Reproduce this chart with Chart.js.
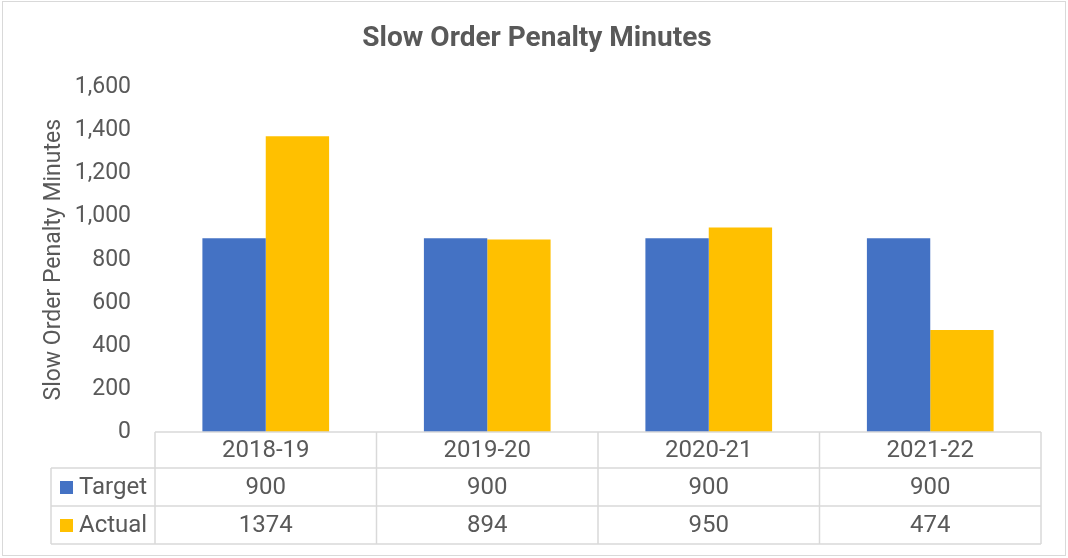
<!DOCTYPE html>
<html>
<head>
<meta charset="utf-8">
<script src="https://cdn.jsdelivr.net/npm/chart.js@4/dist/chart.umd.min.js"></script>
<style>
  html, body { margin: 0; padding: 0; background: #fff; }
  #wrap { width: 1068px; height: 558px; position: relative; }
</style>
</head>
<body>
<div id="wrap"><canvas id="penaltyChart"></canvas></div>
<script>
const categories = ['2018-19', '2019-20', '2020-21', '2021-22'];
const targetValues = [900, 900, 900, 900];
const actualValues = [1374, 894, 950, 474];
const seriesNames = ['Target', 'Actual'];
const seriesColors = ['#4472C4', '#FFC000'];
const chartTitle = 'Slow Order Penalty Minutes';

const textColor = '#595959';
const lineColor = '#d9d9d9';
const fontFamily = 'Roboto, "Noto Sans", sans-serif';

// draws title, the data table under the plot and the outer frame
const dataTable = {
    id: 'dataTable',
    afterDraw(chart) {
        const ctx = chart.ctx;
        const area = chart.chartArea;
        const n = categories.length;
        const colW = (area.right - area.left) / n;
        const rows = [36, 38, 38];
        const y0 = area.bottom;
        const y1 = y0 + rows[0];
        const y2 = y1 + rows[1];
        const y3 = y2 + rows[2];
        const legendLeft = 51;

        ctx.save();
        // title
        ctx.fillStyle = textColor;
        ctx.font = 'bold 28px ' + fontFamily;
        ctx.textAlign = 'center';
        ctx.textBaseline = 'middle';
        ctx.fillText(chartTitle, 537, 39);

        ctx.strokeStyle = lineColor;
        ctx.lineWidth = 1.5;
        ctx.beginPath();
        // horizontal lines
        ctx.moveTo(area.left, y0); ctx.lineTo(area.right, y0);
        ctx.moveTo(legendLeft, y1); ctx.lineTo(area.right, y1);
        ctx.moveTo(legendLeft, y2); ctx.lineTo(area.right, y2);
        ctx.moveTo(legendLeft, y3); ctx.lineTo(area.right, y3);
        // vertical lines
        ctx.moveTo(legendLeft, y1); ctx.lineTo(legendLeft, y3);
        for (let i = 0; i <= n; i++) {
            const x = area.left + i * colW;
            ctx.moveTo(x, y0); ctx.lineTo(x, y3);
        }
        ctx.stroke();

        ctx.fillStyle = textColor;
        ctx.font = '24px ' + fontFamily;
        const xs = chart.scales.x;
        const rowVals = [targetValues, actualValues];
        categories.forEach((c, i) => {
            const cx = xs.getPixelForValue(i);
            ctx.fillText(c, cx, (y0 + y1) / 2 + 1);
            ctx.fillText(String(rowVals[0][i]), cx, (y1 + y2) / 2 + 1);
            ctx.fillText(String(rowVals[1][i]), cx, (y2 + y3) / 2 + 1);
        });

        // legend keys
        ctx.textAlign = 'left';
        [[y1, y2], [y2, y3]].forEach((r, k) => {
            const cy = (r[0] + r[1]) / 2;
            ctx.fillStyle = seriesColors[k];
            ctx.fillRect(60, cy - 6, 13, 13);
            ctx.fillStyle = textColor;
            ctx.fillText(seriesNames[k], 79, cy + 1);
        });

        // outer frame
        ctx.strokeStyle = lineColor;
        ctx.lineWidth = 1;
        ctx.strokeRect(2.5, 1.5, 1063, 554);
        ctx.restore();
    }
};

new Chart(document.getElementById('penaltyChart'), {
    type: 'bar',
    data: {
        labels: categories,
        datasets: [{
            label: seriesNames[0],
            data: targetValues,
            backgroundColor: seriesColors[0],
            barPercentage: 1,
            categoryPercentage: 0.572
        }, {
            label: seriesNames[1],
            data: actualValues,
            backgroundColor: seriesColors[1],
            barPercentage: 1,
            categoryPercentage: 0.572
        }]
    },
    options: {
        responsive: true,
        maintainAspectRatio: false,
        animation: false,
        layout: {
            padding: { top: 87.5, left: 0, right: 27, bottom: 126 }
        },
        plugins: {
            legend: { display: false },
            tooltip: { enabled: false },
            title: { display: false }
        },
        scales: {
            x: {
                display: false
            },
            y: {
                min: 0,
                max: 1600,
                ticks: {
                    stepSize: 200,
                    padding: 24,
                    color: textColor,
                    font: { family: fontFamily, size: 23 },
                    callback: v => v.toLocaleString('en-US')
                },
                grid: { display: false, drawTicks: false },
                border: { display: false },
                title: {
                    display: true,
                    text: 'Slow Order Penalty Minutes',
                    color: textColor,
                    font: { family: fontFamily, size: 23 },
                    padding: { top: 40 }
                },
                afterFit(scale) { scale.width = 155; }
            }
        }
    },
    plugins: [dataTable]
});
</script>
</body>
</html>
